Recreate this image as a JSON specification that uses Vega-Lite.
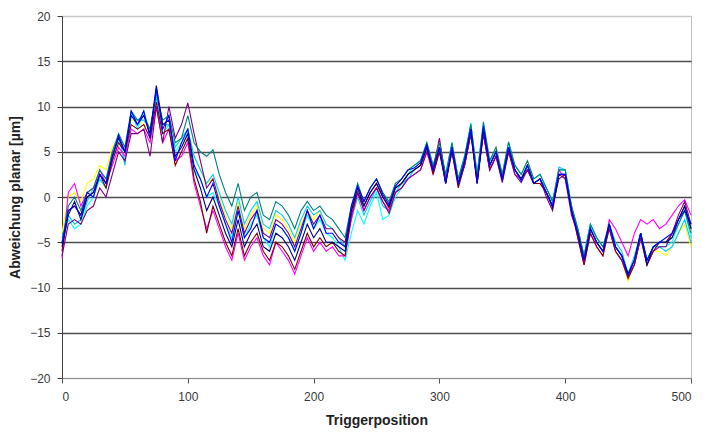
{
"$schema": "https://vega.github.io/schema/vega-lite/v6.json",
"width": 629, "height": 362,
"autosize": {"type": "none"},
"padding": {"left": 62, "top": 16, "right": 17, "bottom": 56},
"background": "white",
"config": {"view": {"stroke": "#c0c0c0", "strokeWidth": 1}, "font": "Liberation Sans"},
"data": {"values": [
{"s":"C","x":0,"y":-4},{"s":"C","x":5,"y":0},{"s":"C","x":10,"y":0.5},{"s":"C","x":15,"y":-0.5},{"s":"C","x":20,"y":1.5},{"s":"C","x":25,"y":2},{"s":"C","x":30,"y":3.5},{"s":"C","x":35,"y":3},{"s":"C","x":40,"y":5.5},{"s":"C","x":45,"y":6.5},{"s":"C","x":50,"y":5.5},{"s":"C","x":55,"y":8.5},{"s":"C","x":60,"y":8.5},{"s":"C","x":65,"y":8},{"s":"C","x":70,"y":7.5},{"s":"C","x":75,"y":11},{"s":"C","x":80,"y":8},{"s":"C","x":85,"y":8.5},{"s":"C","x":90,"y":5.5},{"s":"C","x":95,"y":6.5},{"s":"C","x":100,"y":7.5},{"s":"C","x":105,"y":4.5},{"s":"C","x":110,"y":3},{"s":"C","x":115,"y":1.5},{"s":"C","x":120,"y":2},{"s":"C","x":125,"y":0},{"s":"C","x":130,"y":-2},{"s":"C","x":135,"y":-3.5},{"s":"C","x":140,"y":-0.5},{"s":"C","x":145,"y":-3.5},{"s":"C","x":150,"y":-2},{"s":"C","x":155,"y":-1},{"s":"C","x":160,"y":-3.5},{"s":"C","x":165,"y":-4},{"s":"C","x":170,"y":-2},{"s":"C","x":175,"y":-2.5},{"s":"C","x":180,"y":-3.5},{"s":"C","x":185,"y":-5},{"s":"C","x":190,"y":-3},{"s":"C","x":195,"y":-1.5},{"s":"C","x":200,"y":-2.5},{"s":"C","x":205,"y":-1.5},{"s":"C","x":210,"y":-3},{"s":"C","x":215,"y":-3.5},{"s":"C","x":220,"y":-4.5},{"s":"C","x":225,"y":-5},{"s":"C","x":230,"y":-1},{"s":"C","x":235,"y":1},{"s":"C","x":240,"y":-0.5},{"s":"C","x":245,"y":1},{"s":"C","x":250,"y":2},{"s":"C","x":255,"y":0.5},{"s":"C","x":260,"y":-0.5},{"s":"C","x":265,"y":1.5},{"s":"C","x":270,"y":2},{"s":"C","x":275,"y":3},{"s":"C","x":280,"y":3.5},{"s":"C","x":285,"y":4},{"s":"C","x":290,"y":6},{"s":"C","x":295,"y":3.5},{"s":"C","x":300,"y":5.5},{"s":"C","x":305,"y":2.5},{"s":"C","x":310,"y":5.5},{"s":"C","x":315,"y":2},{"s":"C","x":320,"y":4.5},{"s":"C","x":325,"y":7.5},{"s":"C","x":330,"y":2.5},{"s":"C","x":335,"y":7.5},{"s":"C","x":340,"y":4},{"s":"C","x":345,"y":5.5},{"s":"C","x":350,"y":2.5},{"s":"C","x":355,"y":6},{"s":"C","x":360,"y":3.5},{"s":"C","x":365,"y":2.5},{"s":"C","x":370,"y":4},{"s":"C","x":375,"y":2},{"s":"C","x":380,"y":2.5},{"s":"C","x":385,"y":1},{"s":"C","x":390,"y":-0.5},{"s":"C","x":395,"y":2.5},{"s":"C","x":400,"y":2.5},{"s":"C","x":405,"y":-1.5},{"s":"C","x":410,"y":-4},{"s":"C","x":415,"y":-6.5},{"s":"C","x":420,"y":-3.5},{"s":"C","x":425,"y":-5},{"s":"C","x":430,"y":-6},{"s":"C","x":435,"y":-3},{"s":"C","x":440,"y":-6},{"s":"C","x":445,"y":-7},{"s":"C","x":450,"y":-9.3},{"s":"C","x":455,"y":-7.5},{"s":"C","x":460,"y":-4.5},{"s":"C","x":465,"y":-7.5},{"s":"C","x":470,"y":-6},{"s":"C","x":475,"y":-6},{"s":"C","x":480,"y":-6.5},{"s":"C","x":485,"y":-5.5},{"s":"C","x":490,"y":-4},{"s":"C","x":495,"y":-3},{"s":"C","x":500,"y":-5.5},
{"s":"D","x":0,"y":-5},{"s":"D","x":5,"y":-2.5},{"s":"D","x":10,"y":-3.5},{"s":"D","x":15,"y":-3},{"s":"D","x":20,"y":-1},{"s":"D","x":25,"y":0},{"s":"D","x":30,"y":2},{"s":"D","x":35,"y":1},{"s":"D","x":40,"y":4},{"s":"D","x":45,"y":6.5},{"s":"D","x":50,"y":4},{"s":"D","x":55,"y":9.5},{"s":"D","x":60,"y":7.5},{"s":"D","x":65,"y":9.5},{"s":"D","x":70,"y":7},{"s":"D","x":75,"y":11.5},{"s":"D","x":80,"y":7},{"s":"D","x":85,"y":8},{"s":"D","x":90,"y":5},{"s":"D","x":95,"y":6},{"s":"D","x":100,"y":7},{"s":"D","x":105,"y":3},{"s":"D","x":110,"y":2},{"s":"D","x":115,"y":0},{"s":"D","x":120,"y":0.5},{"s":"D","x":125,"y":-1},{"s":"D","x":130,"y":-3},{"s":"D","x":135,"y":-4.5},{"s":"D","x":140,"y":-1.5},{"s":"D","x":145,"y":-4.5},{"s":"D","x":150,"y":-3},{"s":"D","x":155,"y":-2},{"s":"D","x":160,"y":-4.5},{"s":"D","x":165,"y":-5.5},{"s":"D","x":170,"y":-3},{"s":"D","x":175,"y":-3.5},{"s":"D","x":180,"y":-4.5},{"s":"D","x":185,"y":-6},{"s":"D","x":190,"y":-4},{"s":"D","x":195,"y":-2},{"s":"D","x":200,"y":-3.5},{"s":"D","x":205,"y":-2.5},{"s":"D","x":210,"y":-4},{"s":"D","x":215,"y":-4.5},{"s":"D","x":220,"y":-5.5},{"s":"D","x":225,"y":-7},{"s":"D","x":230,"y":-4},{"s":"D","x":235,"y":-1.5},{"s":"D","x":240,"y":-3},{"s":"D","x":245,"y":-1},{"s":"D","x":250,"y":0.5},{"s":"D","x":255,"y":-2.5},{"s":"D","x":260,"y":-2},{"s":"D","x":265,"y":0},{"s":"D","x":270,"y":1},{"s":"D","x":275,"y":2.5},{"s":"D","x":280,"y":3.5},{"s":"D","x":285,"y":4},{"s":"D","x":290,"y":6},{"s":"D","x":295,"y":3.5},{"s":"D","x":300,"y":5},{"s":"D","x":305,"y":2.5},{"s":"D","x":310,"y":6},{"s":"D","x":315,"y":2},{"s":"D","x":320,"y":4.5},{"s":"D","x":325,"y":8},{"s":"D","x":330,"y":2.5},{"s":"D","x":335,"y":8},{"s":"D","x":340,"y":4},{"s":"D","x":345,"y":5},{"s":"D","x":350,"y":2.5},{"s":"D","x":355,"y":6},{"s":"D","x":360,"y":3.5},{"s":"D","x":365,"y":2.5},{"s":"D","x":370,"y":3.5},{"s":"D","x":375,"y":2},{"s":"D","x":380,"y":2.5},{"s":"D","x":385,"y":1},{"s":"D","x":390,"y":-0.5},{"s":"D","x":395,"y":3},{"s":"D","x":400,"y":3},{"s":"D","x":405,"y":-1},{"s":"D","x":410,"y":-3.5},{"s":"D","x":415,"y":-6.5},{"s":"D","x":420,"y":-3},{"s":"D","x":425,"y":-4.5},{"s":"D","x":430,"y":-5.5},{"s":"D","x":435,"y":-3},{"s":"D","x":440,"y":-5.5},{"s":"D","x":445,"y":-6.5},{"s":"D","x":450,"y":-8.5},{"s":"D","x":455,"y":-7},{"s":"D","x":460,"y":-4},{"s":"D","x":465,"y":-7},{"s":"D","x":470,"y":-5.5},{"s":"D","x":475,"y":-5.5},{"s":"D","x":480,"y":-5.5},{"s":"D","x":485,"y":-5},{"s":"D","x":490,"y":-3},{"s":"D","x":495,"y":-1.5},{"s":"D","x":500,"y":-4.5},
{"s":"I","x":0,"y":-4.5},{"s":"I","x":5,"y":-2},{"s":"I","x":10,"y":-3},{"s":"I","x":15,"y":-2.5},{"s":"I","x":20,"y":-0.5},{"s":"I","x":25,"y":1},{"s":"I","x":30,"y":2},{"s":"I","x":35,"y":1},{"s":"I","x":40,"y":4},{"s":"I","x":45,"y":7},{"s":"I","x":50,"y":3.5},{"s":"I","x":55,"y":9},{"s":"I","x":60,"y":8.5},{"s":"I","x":65,"y":8.5},{"s":"I","x":70,"y":7.5},{"s":"I","x":75,"y":11},{"s":"I","x":80,"y":8},{"s":"I","x":85,"y":8},{"s":"I","x":90,"y":5.5},{"s":"I","x":95,"y":6.5},{"s":"I","x":100,"y":7.5},{"s":"I","x":105,"y":4.5},{"s":"I","x":110,"y":3},{"s":"I","x":115,"y":1.5},{"s":"I","x":120,"y":2.5},{"s":"I","x":125,"y":0.5},{"s":"I","x":130,"y":-1.5},{"s":"I","x":135,"y":-3},{"s":"I","x":140,"y":0},{"s":"I","x":145,"y":-3},{"s":"I","x":150,"y":-1.5},{"s":"I","x":155,"y":-0.5},{"s":"I","x":160,"y":-3},{"s":"I","x":165,"y":-3.5},{"s":"I","x":170,"y":-1.5},{"s":"I","x":175,"y":-2},{"s":"I","x":180,"y":-3},{"s":"I","x":185,"y":-4.5},{"s":"I","x":190,"y":-2.5},{"s":"I","x":195,"y":-1},{"s":"I","x":200,"y":-2},{"s":"I","x":205,"y":-1.5},{"s":"I","x":210,"y":-3},{"s":"I","x":215,"y":-3.5},{"s":"I","x":220,"y":-4.5},{"s":"I","x":225,"y":-5.5},{"s":"I","x":230,"y":-2.5},{"s":"I","x":235,"y":0},{"s":"I","x":240,"y":-2},{"s":"I","x":245,"y":-0.5},{"s":"I","x":250,"y":1},{"s":"I","x":255,"y":-1},{"s":"I","x":260,"y":-1.5},{"s":"I","x":265,"y":0.5},{"s":"I","x":270,"y":1.5},{"s":"I","x":275,"y":2},{"s":"I","x":280,"y":3},{"s":"I","x":285,"y":3.5},{"s":"I","x":290,"y":5.5},{"s":"I","x":295,"y":3},{"s":"I","x":300,"y":5},{"s":"I","x":305,"y":2},{"s":"I","x":310,"y":5.5},{"s":"I","x":315,"y":2},{"s":"I","x":320,"y":4},{"s":"I","x":325,"y":8.2},{"s":"I","x":330,"y":2},{"s":"I","x":335,"y":8},{"s":"I","x":340,"y":3.5},{"s":"I","x":345,"y":5},{"s":"I","x":350,"y":2},{"s":"I","x":355,"y":5.5},{"s":"I","x":360,"y":3},{"s":"I","x":365,"y":2},{"s":"I","x":370,"y":3.5},{"s":"I","x":375,"y":1.5},{"s":"I","x":380,"y":2},{"s":"I","x":385,"y":1},{"s":"I","x":390,"y":-0.5},{"s":"I","x":395,"y":3.3},{"s":"I","x":400,"y":3},{"s":"I","x":405,"y":-1},{"s":"I","x":410,"y":-3.5},{"s":"I","x":415,"y":-6.5},{"s":"I","x":420,"y":-3},{"s":"I","x":425,"y":-4.5},{"s":"I","x":430,"y":-5.5},{"s":"I","x":435,"y":-3},{"s":"I","x":440,"y":-5},{"s":"I","x":445,"y":-6},{"s":"I","x":450,"y":-8.5},{"s":"I","x":455,"y":-6.5},{"s":"I","x":460,"y":-4},{"s":"I","x":465,"y":-7},{"s":"I","x":470,"y":-5.5},{"s":"I","x":475,"y":-5.5},{"s":"I","x":480,"y":-6},{"s":"I","x":485,"y":-5.5},{"s":"I","x":490,"y":-4},{"s":"I","x":495,"y":-2.5},{"s":"I","x":500,"y":-5},
{"s":"B","x":0,"y":-6.8},{"s":"B","x":5,"y":0.5},{"s":"B","x":10,"y":1.5},{"s":"B","x":15,"y":-1},{"s":"B","x":20,"y":0.5},{"s":"B","x":25,"y":1},{"s":"B","x":30,"y":3},{"s":"B","x":35,"y":1.5},{"s":"B","x":40,"y":3.5},{"s":"B","x":45,"y":5.5},{"s":"B","x":50,"y":4.5},{"s":"B","x":55,"y":7.5},{"s":"B","x":60,"y":7},{"s":"B","x":65,"y":7.5},{"s":"B","x":70,"y":6},{"s":"B","x":75,"y":10},{"s":"B","x":80,"y":6},{"s":"B","x":85,"y":7.5},{"s":"B","x":90,"y":4},{"s":"B","x":95,"y":4.5},{"s":"B","x":100,"y":6},{"s":"B","x":105,"y":1.5},{"s":"B","x":110,"y":-1},{"s":"B","x":115,"y":-3.5},{"s":"B","x":120,"y":-1.5},{"s":"B","x":125,"y":-3.5},{"s":"B","x":130,"y":-5.5},{"s":"B","x":135,"y":-7},{"s":"B","x":140,"y":-4},{"s":"B","x":145,"y":-7},{"s":"B","x":150,"y":-5.5},{"s":"B","x":155,"y":-4.5},{"s":"B","x":160,"y":-6.5},{"s":"B","x":165,"y":-7.5},{"s":"B","x":170,"y":-5},{"s":"B","x":175,"y":-6},{"s":"B","x":180,"y":-7},{"s":"B","x":185,"y":-8.5},{"s":"B","x":190,"y":-6.5},{"s":"B","x":195,"y":-4.5},{"s":"B","x":200,"y":-6},{"s":"B","x":205,"y":-5},{"s":"B","x":210,"y":-6},{"s":"B","x":215,"y":-5.5},{"s":"B","x":220,"y":-6.5},{"s":"B","x":225,"y":-6.5},{"s":"B","x":230,"y":-2.5},{"s":"B","x":235,"y":0.5},{"s":"B","x":240,"y":-1.5},{"s":"B","x":245,"y":0},{"s":"B","x":250,"y":1},{"s":"B","x":255,"y":-0.5},{"s":"B","x":260,"y":-1.5},{"s":"B","x":265,"y":0.5},{"s":"B","x":270,"y":1},{"s":"B","x":275,"y":2},{"s":"B","x":280,"y":2.5},{"s":"B","x":285,"y":3},{"s":"B","x":290,"y":5},{"s":"B","x":295,"y":2.5},{"s":"B","x":300,"y":5},{"s":"B","x":305,"y":2},{"s":"B","x":310,"y":5},{"s":"B","x":315,"y":1.5},{"s":"B","x":320,"y":3.5},{"s":"B","x":325,"y":7},{"s":"B","x":330,"y":2},{"s":"B","x":335,"y":7},{"s":"B","x":340,"y":3},{"s":"B","x":345,"y":4.5},{"s":"B","x":350,"y":2},{"s":"B","x":355,"y":5},{"s":"B","x":360,"y":2.5},{"s":"B","x":365,"y":2},{"s":"B","x":370,"y":3},{"s":"B","x":375,"y":1.5},{"s":"B","x":380,"y":1.5},{"s":"B","x":385,"y":0.5},{"s":"B","x":390,"y":-1},{"s":"B","x":395,"y":3},{"s":"B","x":400,"y":2},{"s":"B","x":405,"y":-1},{"s":"B","x":410,"y":-4.5},{"s":"B","x":415,"y":-7.5},{"s":"B","x":420,"y":-4},{"s":"B","x":425,"y":-5.5},{"s":"B","x":430,"y":-6.5},{"s":"B","x":435,"y":-2.5},{"s":"B","x":440,"y":-3.5},{"s":"B","x":445,"y":-5},{"s":"B","x":450,"y":-6.5},{"s":"B","x":455,"y":-4},{"s":"B","x":460,"y":-2.5},{"s":"B","x":465,"y":-3},{"s":"B","x":470,"y":-2.5},{"s":"B","x":475,"y":-3.5},{"s":"B","x":480,"y":-3},{"s":"B","x":485,"y":-2},{"s":"B","x":490,"y":-1},{"s":"B","x":495,"y":-0.3},{"s":"B","x":500,"y":-2},
{"s":"F","x":0,"y":-6},{"s":"F","x":5,"y":-1.5},{"s":"F","x":10,"y":-1},{"s":"F","x":15,"y":-2},{"s":"F","x":20,"y":0},{"s":"F","x":25,"y":0.5},{"s":"F","x":30,"y":2.5},{"s":"F","x":35,"y":1},{"s":"F","x":40,"y":4},{"s":"F","x":45,"y":6},{"s":"F","x":50,"y":5},{"s":"F","x":55,"y":8},{"s":"F","x":60,"y":7.5},{"s":"F","x":65,"y":8},{"s":"F","x":70,"y":6.5},{"s":"F","x":75,"y":10.5},{"s":"F","x":80,"y":7},{"s":"F","x":85,"y":7.5},{"s":"F","x":90,"y":3.5},{"s":"F","x":95,"y":5},{"s":"F","x":100,"y":6.5},{"s":"F","x":105,"y":2},{"s":"F","x":110,"y":-0.5},{"s":"F","x":115,"y":-4},{"s":"F","x":120,"y":-1},{"s":"F","x":125,"y":-3},{"s":"F","x":130,"y":-5},{"s":"F","x":135,"y":-6.5},{"s":"F","x":140,"y":-3.5},{"s":"F","x":145,"y":-6.5},{"s":"F","x":150,"y":-5},{"s":"F","x":155,"y":-4},{"s":"F","x":160,"y":-6},{"s":"F","x":165,"y":-7},{"s":"F","x":170,"y":-5},{"s":"F","x":175,"y":-5.5},{"s":"F","x":180,"y":-6.5},{"s":"F","x":185,"y":-8},{"s":"F","x":190,"y":-6},{"s":"F","x":195,"y":-4},{"s":"F","x":200,"y":-5.5},{"s":"F","x":205,"y":-4.5},{"s":"F","x":210,"y":-5.5},{"s":"F","x":215,"y":-5},{"s":"F","x":220,"y":-6},{"s":"F","x":225,"y":-6.5},{"s":"F","x":230,"y":-2},{"s":"F","x":235,"y":0.5},{"s":"F","x":240,"y":-1},{"s":"F","x":245,"y":0.5},{"s":"F","x":250,"y":1.5},{"s":"F","x":255,"y":0},{"s":"F","x":260,"y":-1.2},{"s":"F","x":265,"y":1},{"s":"F","x":270,"y":1.5},{"s":"F","x":275,"y":2.5},{"s":"F","x":280,"y":3},{"s":"F","x":285,"y":3.5},{"s":"F","x":290,"y":5.5},{"s":"F","x":295,"y":2.5},{"s":"F","x":300,"y":5},{"s":"F","x":305,"y":1.5},{"s":"F","x":310,"y":5},{"s":"F","x":315,"y":1},{"s":"F","x":320,"y":3.5},{"s":"F","x":325,"y":7},{"s":"F","x":330,"y":1.5},{"s":"F","x":335,"y":7},{"s":"F","x":340,"y":3},{"s":"F","x":345,"y":4.5},{"s":"F","x":350,"y":2},{"s":"F","x":355,"y":5},{"s":"F","x":360,"y":3},{"s":"F","x":365,"y":2},{"s":"F","x":370,"y":3},{"s":"F","x":375,"y":1.5},{"s":"F","x":380,"y":1.5},{"s":"F","x":385,"y":0.5},{"s":"F","x":390,"y":-1},{"s":"F","x":395,"y":2},{"s":"F","x":400,"y":2.5},{"s":"F","x":405,"y":-1.5},{"s":"F","x":410,"y":-4.5},{"s":"F","x":415,"y":-7.5},{"s":"F","x":420,"y":-4},{"s":"F","x":425,"y":-5.5},{"s":"F","x":430,"y":-6.5},{"s":"F","x":435,"y":-3.5},{"s":"F","x":440,"y":-6},{"s":"F","x":445,"y":-7},{"s":"F","x":450,"y":-9},{"s":"F","x":455,"y":-7.5},{"s":"F","x":460,"y":-4.5},{"s":"F","x":465,"y":-7.5},{"s":"F","x":470,"y":-6},{"s":"F","x":475,"y":-5},{"s":"F","x":480,"y":-5},{"s":"F","x":485,"y":-4},{"s":"F","x":490,"y":-2.5},{"s":"F","x":495,"y":-1},{"s":"F","x":500,"y":-3.5},
{"s":"E","x":0,"y":-6.5},{"s":"E","x":5,"y":-3},{"s":"E","x":10,"y":-2.5},{"s":"E","x":15,"y":-3},{"s":"E","x":20,"y":-1.5},{"s":"E","x":25,"y":-1},{"s":"E","x":30,"y":1},{"s":"E","x":35,"y":0},{"s":"E","x":40,"y":2.5},{"s":"E","x":45,"y":5},{"s":"E","x":50,"y":4},{"s":"E","x":55,"y":7},{"s":"E","x":60,"y":7},{"s":"E","x":65,"y":7.5},{"s":"E","x":70,"y":4.5},{"s":"E","x":75,"y":10},{"s":"E","x":80,"y":6},{"s":"E","x":85,"y":10},{"s":"E","x":90,"y":6.5},{"s":"E","x":95,"y":8},{"s":"E","x":100,"y":10.4},{"s":"E","x":105,"y":7},{"s":"E","x":110,"y":4},{"s":"E","x":115,"y":1},{"s":"E","x":120,"y":2},{"s":"E","x":125,"y":-0.5},{"s":"E","x":130,"y":-2.5},{"s":"E","x":135,"y":-4},{"s":"E","x":140,"y":-1},{"s":"E","x":145,"y":-4},{"s":"E","x":150,"y":-2.5},{"s":"E","x":155,"y":-1.5},{"s":"E","x":160,"y":-4},{"s":"E","x":165,"y":-4.5},{"s":"E","x":170,"y":-2.5},{"s":"E","x":175,"y":-3},{"s":"E","x":180,"y":-4},{"s":"E","x":185,"y":-5.5},{"s":"E","x":190,"y":-3.5},{"s":"E","x":195,"y":-1.5},{"s":"E","x":200,"y":-3},{"s":"E","x":205,"y":-2},{"s":"E","x":210,"y":-3.5},{"s":"E","x":215,"y":-3.5},{"s":"E","x":220,"y":-4.5},{"s":"E","x":225,"y":-5},{"s":"E","x":230,"y":-1.5},{"s":"E","x":235,"y":0.5},{"s":"E","x":240,"y":-1.5},{"s":"E","x":245,"y":0},{"s":"E","x":250,"y":1},{"s":"E","x":255,"y":-0.5},{"s":"E","x":260,"y":-1.8},{"s":"E","x":265,"y":0.5},{"s":"E","x":270,"y":1},{"s":"E","x":275,"y":2},{"s":"E","x":280,"y":2.5},{"s":"E","x":285,"y":3},{"s":"E","x":290,"y":5},{"s":"E","x":295,"y":3},{"s":"E","x":300,"y":6.5},{"s":"E","x":305,"y":2},{"s":"E","x":310,"y":5},{"s":"E","x":315,"y":1.5},{"s":"E","x":320,"y":3.5},{"s":"E","x":325,"y":7},{"s":"E","x":330,"y":2},{"s":"E","x":335,"y":7},{"s":"E","x":340,"y":3},{"s":"E","x":345,"y":4.5},{"s":"E","x":350,"y":1.6},{"s":"E","x":355,"y":5},{"s":"E","x":360,"y":2.5},{"s":"E","x":365,"y":1.6},{"s":"E","x":370,"y":3},{"s":"E","x":375,"y":1.5},{"s":"E","x":380,"y":2},{"s":"E","x":385,"y":0},{"s":"E","x":390,"y":-1.5},{"s":"E","x":395,"y":2.5},{"s":"E","x":400,"y":2},{"s":"E","x":405,"y":-2},{"s":"E","x":410,"y":-4},{"s":"E","x":415,"y":-7},{"s":"E","x":420,"y":-3.5},{"s":"E","x":425,"y":-5},{"s":"E","x":430,"y":-6},{"s":"E","x":435,"y":-3.5},{"s":"E","x":440,"y":-6},{"s":"E","x":445,"y":-7},{"s":"E","x":450,"y":-8.8},{"s":"E","x":455,"y":-7.5},{"s":"E","x":460,"y":-4.5},{"s":"E","x":465,"y":-7.5},{"s":"E","x":470,"y":-6},{"s":"E","x":475,"y":-5.5},{"s":"E","x":480,"y":-5.5},{"s":"E","x":485,"y":-4},{"s":"E","x":490,"y":-2},{"s":"E","x":495,"y":-0.5},{"s":"E","x":500,"y":-3},
{"s":"G","x":0,"y":-5},{"s":"G","x":5,"y":-1},{"s":"G","x":10,"y":0},{"s":"G","x":15,"y":-1.5},{"s":"G","x":20,"y":0.5},{"s":"G","x":25,"y":1},{"s":"G","x":30,"y":3},{"s":"G","x":35,"y":2},{"s":"G","x":40,"y":5},{"s":"G","x":45,"y":7},{"s":"G","x":50,"y":5.5},{"s":"G","x":55,"y":9.5},{"s":"G","x":60,"y":8.5},{"s":"G","x":65,"y":9},{"s":"G","x":70,"y":7.5},{"s":"G","x":75,"y":11.5},{"s":"G","x":80,"y":8.5},{"s":"G","x":85,"y":9},{"s":"G","x":90,"y":6},{"s":"G","x":95,"y":6.5},{"s":"G","x":100,"y":9},{"s":"G","x":105,"y":6},{"s":"G","x":110,"y":5},{"s":"G","x":115,"y":4.5},{"s":"G","x":120,"y":5.2},{"s":"G","x":125,"y":2.5},{"s":"G","x":130,"y":0.5},{"s":"G","x":135,"y":-1},{"s":"G","x":140,"y":1.5},{"s":"G","x":145,"y":-1.5},{"s":"G","x":150,"y":0},{"s":"G","x":155,"y":0.5},{"s":"G","x":160,"y":-2},{"s":"G","x":165,"y":-2.5},{"s":"G","x":170,"y":-0.5},{"s":"G","x":175,"y":-1},{"s":"G","x":180,"y":-2},{"s":"G","x":185,"y":-3.5},{"s":"G","x":190,"y":-1.5},{"s":"G","x":195,"y":-0.5},{"s":"G","x":200,"y":-1.5},{"s":"G","x":205,"y":-1},{"s":"G","x":210,"y":-2},{"s":"G","x":215,"y":-2.5},{"s":"G","x":220,"y":-3.5},{"s":"G","x":225,"y":-4.5},{"s":"G","x":230,"y":-1},{"s":"G","x":235,"y":1.5},{"s":"G","x":240,"y":-0.5},{"s":"G","x":245,"y":1},{"s":"G","x":250,"y":2},{"s":"G","x":255,"y":0.5},{"s":"G","x":260,"y":-0.5},{"s":"G","x":265,"y":1.5},{"s":"G","x":270,"y":2},{"s":"G","x":275,"y":3},{"s":"G","x":280,"y":3.5},{"s":"G","x":285,"y":4},{"s":"G","x":290,"y":6},{"s":"G","x":295,"y":3.5},{"s":"G","x":300,"y":6},{"s":"G","x":305,"y":2.5},{"s":"G","x":310,"y":6},{"s":"G","x":315,"y":2},{"s":"G","x":320,"y":4.5},{"s":"G","x":325,"y":8},{"s":"G","x":330,"y":2.5},{"s":"G","x":335,"y":8.3},{"s":"G","x":340,"y":4},{"s":"G","x":345,"y":5.5},{"s":"G","x":350,"y":2.5},{"s":"G","x":355,"y":6.1},{"s":"G","x":360,"y":3.5},{"s":"G","x":365,"y":2.5},{"s":"G","x":370,"y":4},{"s":"G","x":375,"y":2},{"s":"G","x":380,"y":2.5},{"s":"G","x":385,"y":1},{"s":"G","x":390,"y":-0.5},{"s":"G","x":395,"y":3},{"s":"G","x":400,"y":3},{"s":"G","x":405,"y":-1},{"s":"G","x":410,"y":-3.5},{"s":"G","x":415,"y":-6.5},{"s":"G","x":420,"y":-3},{"s":"G","x":425,"y":-4.5},{"s":"G","x":430,"y":-5.5},{"s":"G","x":435,"y":-3},{"s":"G","x":440,"y":-5.5},{"s":"G","x":445,"y":-6.5},{"s":"G","x":450,"y":-8.5},{"s":"G","x":455,"y":-7},{"s":"G","x":460,"y":-4},{"s":"G","x":465,"y":-7},{"s":"G","x":470,"y":-5.5},{"s":"G","x":475,"y":-5},{"s":"G","x":480,"y":-5},{"s":"G","x":485,"y":-4.5},{"s":"G","x":490,"y":-3},{"s":"G","x":495,"y":-1.5},{"s":"G","x":500,"y":-4},
{"s":"A","x":0,"y":-5.5},{"s":"A","x":5,"y":-2},{"s":"A","x":10,"y":-0.5},{"s":"A","x":15,"y":-2.5},{"s":"A","x":20,"y":0},{"s":"A","x":25,"y":0.5},{"s":"A","x":30,"y":2.5},{"s":"A","x":35,"y":1.5},{"s":"A","x":40,"y":4.5},{"s":"A","x":45,"y":6.5},{"s":"A","x":50,"y":5},{"s":"A","x":55,"y":9},{"s":"A","x":60,"y":8},{"s":"A","x":65,"y":9},{"s":"A","x":70,"y":7},{"s":"A","x":75,"y":12.3},{"s":"A","x":80,"y":8},{"s":"A","x":85,"y":8.5},{"s":"A","x":90,"y":4.5},{"s":"A","x":95,"y":5.5},{"s":"A","x":100,"y":7},{"s":"A","x":105,"y":3},{"s":"A","x":110,"y":1},{"s":"A","x":115,"y":-1.5},{"s":"A","x":120,"y":0},{"s":"A","x":125,"y":-2},{"s":"A","x":130,"y":-4},{"s":"A","x":135,"y":-5.5},{"s":"A","x":140,"y":-2.5},{"s":"A","x":145,"y":-5.5},{"s":"A","x":150,"y":-4},{"s":"A","x":155,"y":-3},{"s":"A","x":160,"y":-5.5},{"s":"A","x":165,"y":-6},{"s":"A","x":170,"y":-4},{"s":"A","x":175,"y":-4.5},{"s":"A","x":180,"y":-5.5},{"s":"A","x":185,"y":-7},{"s":"A","x":190,"y":-5},{"s":"A","x":195,"y":-3},{"s":"A","x":200,"y":-4.5},{"s":"A","x":205,"y":-3.5},{"s":"A","x":210,"y":-5},{"s":"A","x":215,"y":-5},{"s":"A","x":220,"y":-5.5},{"s":"A","x":225,"y":-6},{"s":"A","x":230,"y":-1.5},{"s":"A","x":235,"y":1},{"s":"A","x":240,"y":-1},{"s":"A","x":245,"y":0.5},{"s":"A","x":250,"y":1.5},{"s":"A","x":255,"y":0},{"s":"A","x":260,"y":-1},{"s":"A","x":265,"y":1},{"s":"A","x":270,"y":1.5},{"s":"A","x":275,"y":2.5},{"s":"A","x":280,"y":3},{"s":"A","x":285,"y":3.5},{"s":"A","x":290,"y":5.5},{"s":"A","x":295,"y":3},{"s":"A","x":300,"y":5.5},{"s":"A","x":305,"y":1.5},{"s":"A","x":310,"y":5.5},{"s":"A","x":315,"y":1.5},{"s":"A","x":320,"y":4},{"s":"A","x":325,"y":7.5},{"s":"A","x":330,"y":1.5},{"s":"A","x":335,"y":7.5},{"s":"A","x":340,"y":3.5},{"s":"A","x":345,"y":5},{"s":"A","x":350,"y":2},{"s":"A","x":355,"y":5.5},{"s":"A","x":360,"y":3},{"s":"A","x":365,"y":2},{"s":"A","x":370,"y":3.5},{"s":"A","x":375,"y":1.5},{"s":"A","x":380,"y":2},{"s":"A","x":385,"y":0.5},{"s":"A","x":390,"y":-1.2},{"s":"A","x":395,"y":2.5},{"s":"A","x":400,"y":2.5},{"s":"A","x":405,"y":-1.5},{"s":"A","x":410,"y":-4},{"s":"A","x":415,"y":-7},{"s":"A","x":420,"y":-3.5},{"s":"A","x":425,"y":-5},{"s":"A","x":430,"y":-6},{"s":"A","x":435,"y":-3},{"s":"A","x":440,"y":-5.5},{"s":"A","x":445,"y":-6.5},{"s":"A","x":450,"y":-8.5},{"s":"A","x":455,"y":-7},{"s":"A","x":460,"y":-4},{"s":"A","x":465,"y":-7.5},{"s":"A","x":470,"y":-5.5},{"s":"A","x":475,"y":-5},{"s":"A","x":480,"y":-5},{"s":"A","x":485,"y":-4.5},{"s":"A","x":490,"y":-2.5},{"s":"A","x":495,"y":-1},{"s":"A","x":500,"y":-3.5},
{"s":"H","x":0,"y":-5.2},{"s":"H","x":5,"y":-1.5},{"s":"H","x":10,"y":-1},{"s":"H","x":15,"y":-2},{"s":"H","x":20,"y":0.5},{"s":"H","x":25,"y":0},{"s":"H","x":30,"y":2.5},{"s":"H","x":35,"y":1.5},{"s":"H","x":40,"y":4.5},{"s":"H","x":45,"y":6.8},{"s":"H","x":50,"y":5},{"s":"H","x":55,"y":9.5},{"s":"H","x":60,"y":8},{"s":"H","x":65,"y":9.5},{"s":"H","x":70,"y":6.5},{"s":"H","x":75,"y":12},{"s":"H","x":80,"y":7.5},{"s":"H","x":85,"y":9},{"s":"H","x":90,"y":4},{"s":"H","x":95,"y":6},{"s":"H","x":100,"y":7.5},{"s":"H","x":105,"y":3.5},{"s":"H","x":110,"y":2},{"s":"H","x":115,"y":0},{"s":"H","x":120,"y":1.5},{"s":"H","x":125,"y":-1},{"s":"H","x":130,"y":-3},{"s":"H","x":135,"y":-5},{"s":"H","x":140,"y":-1.5},{"s":"H","x":145,"y":-4.5},{"s":"H","x":150,"y":-3.5},{"s":"H","x":155,"y":-1.5},{"s":"H","x":160,"y":-4.5},{"s":"H","x":165,"y":-5},{"s":"H","x":170,"y":-3},{"s":"H","x":175,"y":-3.5},{"s":"H","x":180,"y":-4.5},{"s":"H","x":185,"y":-6},{"s":"H","x":190,"y":-4},{"s":"H","x":195,"y":-1.5},{"s":"H","x":200,"y":-3.5},{"s":"H","x":205,"y":-2},{"s":"H","x":210,"y":-4},{"s":"H","x":215,"y":-4},{"s":"H","x":220,"y":-5},{"s":"H","x":225,"y":-5.5},{"s":"H","x":230,"y":-1},{"s":"H","x":235,"y":1.2},{"s":"H","x":240,"y":-0.5},{"s":"H","x":245,"y":1},{"s":"H","x":250,"y":2},{"s":"H","x":255,"y":0.3},{"s":"H","x":260,"y":-0.8},{"s":"H","x":265,"y":1.2},{"s":"H","x":270,"y":2},{"s":"H","x":275,"y":3},{"s":"H","x":280,"y":3.2},{"s":"H","x":285,"y":3.8},{"s":"H","x":290,"y":5.8},{"s":"H","x":295,"y":3},{"s":"H","x":300,"y":5.5},{"s":"H","x":305,"y":1.5},{"s":"H","x":310,"y":5.5},{"s":"H","x":315,"y":1.3},{"s":"H","x":320,"y":4},{"s":"H","x":325,"y":7.5},{"s":"H","x":330,"y":1.5},{"s":"H","x":335,"y":7.8},{"s":"H","x":340,"y":3.5},{"s":"H","x":345,"y":5},{"s":"H","x":350,"y":1.8},{"s":"H","x":355,"y":5.5},{"s":"H","x":360,"y":3},{"s":"H","x":365,"y":1.8},{"s":"H","x":370,"y":3.5},{"s":"H","x":375,"y":1.5},{"s":"H","x":380,"y":2},{"s":"H","x":385,"y":0.5},{"s":"H","x":390,"y":-1},{"s":"H","x":395,"y":2.5},{"s":"H","x":400,"y":2.5},{"s":"H","x":405,"y":-1.5},{"s":"H","x":410,"y":-4},{"s":"H","x":415,"y":-7},{"s":"H","x":420,"y":-3.5},{"s":"H","x":425,"y":-5},{"s":"H","x":430,"y":-6},{"s":"H","x":435,"y":-3},{"s":"H","x":440,"y":-5.5},{"s":"H","x":445,"y":-6.5},{"s":"H","x":450,"y":-8.7},{"s":"H","x":455,"y":-7},{"s":"H","x":460,"y":-4},{"s":"H","x":465,"y":-7},{"s":"H","x":470,"y":-5.5},{"s":"H","x":475,"y":-5},{"s":"H","x":480,"y":-4.5},{"s":"H","x":485,"y":-4},{"s":"H","x":490,"y":-2.5},{"s":"H","x":495,"y":-1.5},{"s":"H","x":500,"y":-3}
]},
"mark": {"type": "line", "strokeWidth": 1.1},
"encoding": {
"x": {"field": "x", "type": "quantitative", "scale": {"domain": [0, 500], "nice": false},
 "axis": {"values": [0, 100, 200, 300, 400, 500], "grid": false, "title": "Triggerposition", "domainColor": "#8c8c8c", "tickColor": "#555555", "tickSize": 5, "labelFontSize": 12, "labelColor": "#3a3a3a", "labelPadding": 8, "labelFont": "Liberation Sans", "titleFont": "Liberation Sans", "titleFontSize": 14, "titleFontWeight": "bold", "titleColor": "#222222", "titlePadding": 11}},
"y": {"field": "y", "type": "quantitative", "scale": {"domain": [-20, 20], "nice": false},
 "axis": {"values": [-20, -15, -10, -5, 0, 5, 10, 15, 20], "grid": true, "gridColor": {"condition": {"test": "abs(datum.value) == 20", "value": "#c8c8c8"}, "value": "#4d4d4d"}, "gridWidth": 1.3, "title": "Abweichung planar [µm]", "domainColor": "#404040", "tickColor": "#404040", "tickSize": 5, "labelFontSize": 12, "labelColor": "#3a3a3a", "labelPadding": 7, "labelFont": "Liberation Sans", "titleFont": "Liberation Sans", "titleFontSize": 14, "titleFontWeight": "bold", "titleColor": "#222222", "titlePadding": 7}},
"color": {"field": "s", "type": "nominal", "legend": null,
 "scale": {"domain": ["C", "D", "I", "B", "F", "E", "G", "A", "H"], "range": ["#FFFF00", "#00FFFF", "#00CCFF", "#FF00FF", "#800000", "#800080", "#008080", "#000080", "#0000FF"]}}
}
}
